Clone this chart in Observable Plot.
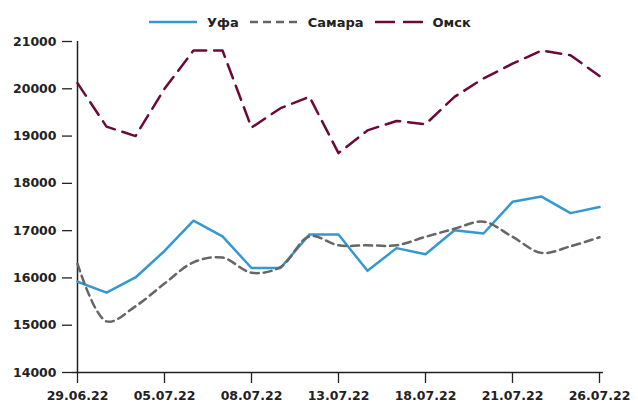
<!DOCTYPE html>
<html>
<head>
<meta charset="utf-8">
<script src="https://cdn.jsdelivr.net/npm/d3@7"></script>
<script src="https://cdn.jsdelivr.net/npm/@observablehq/plot@0.6"></script>
<style>
  html, body { margin: 0; padding: 0; background: #fff; }
  body { width: 638px; height: 405px; overflow: hidden; font-family: "DejaVu Sans", sans-serif; }
  #legend { height: 32px; display: flex; align-items: center; padding-left: 149px; box-sizing: border-box; padding-top: 12px;
            font: bold 13px "DejaVu Sans", sans-serif; color: #222; }
  #legend .item { display: flex; align-items: center; margin-right: 11px; }
  #legend svg { margin-right: 10px; }
</style>
</head>
<body>
<div id="legend"></div>
<div id="chart"></div>
<script>
const dates = ["29.06.22","30.06.22","01.07.22","05.07.22","06.07.22","07.07.22","08.07.22","11.07.22","12.07.22","13.07.22","14.07.22","15.07.22","18.07.22","19.07.22","20.07.22","21.07.22","22.07.22","25.07.22","26.07.22"];
const tickLabels = ["29.06.22","05.07.22","08.07.22","13.07.22","18.07.22","21.07.22","26.07.22"];
const yTicks = [14000,15000,16000,17000,18000,19000,20000,21000];
const seriesNames = ["Уфа","Самара","Омск"];
const ufa    = [15920,15690,16010,16570,17210,16880,16210,16210,16920,16920,16150,16630,16500,17010,16940,17610,17720,17370,17500];
const samara = [16300,15080,15400,15880,16330,16430,16110,16230,16880,16690,16690,16690,16870,17040,17190,16870,16530,16670,16860];
const omsk   = [20120,19200,19000,20000,20810,20810,19180,19590,19830,18640,19120,19320,19250,19830,20220,20530,20810,20710,20270];

const colors = ["#3399d0", "#666666", "#6b0a3a"];
const dashes = [null, "8,5", "15,8"];
const legendDashes = [null, "8,5", "20,8"];

const rows = [];
[ufa, samara, omsk].forEach((arr, s) => arr.forEach((v, i) => rows.push({date: dates[i], value: v, series: seriesNames[s]})));

// Legend
const legend = document.getElementById("legend");
seriesNames.forEach((name, s) => {
  const item = document.createElement("div");
  item.className = "item";
  const dash = legendDashes[s] ? ` stroke-dasharray="${legendDashes[s]}"` : "";
  item.innerHTML = `<svg width="48" height="6"><line x1="0" x2="48" y1="3" y2="3" stroke="${colors[s]}" stroke-width="2.5"${dash}/></svg><span>${name}</span>`;
  legend.appendChild(item);
});

const lineMarks = seriesNames.map((name, s) =>
  Plot.line(rows.filter(d => d.series === name), {
    x: "date", y: "value",
    stroke: colors[s], strokeWidth: 2.5,
    strokeDasharray: dashes[s] || undefined,
    curve: s === 1 ? "catmull-rom" : "linear"
  })
);

const chart = Plot.plot({
  width: 638,
  height: 373,
  marginLeft: 72,
  marginRight: 35,
  marginTop: 9,
  marginBottom: 33,
  style: { fontFamily: "DejaVu Sans, sans-serif", fontSize: "12.5px", fontWeight: "bold", color: "#222", background: "#fff" },
  x: { type: "point", domain: dates, padding: 0 },
  y: { domain: [14000, 21000] },
  marks: [
    Plot.axisY({ ticks: yTicks, tickSize: 10, tickPadding: 6, tickFormat: d => String(d), label: null, stroke: "#222", strokeWidth: 1.3 }),
    Plot.axisX({ ticks: tickLabels, tickSize: 11, tickPadding: 8, label: null, stroke: "#222", strokeWidth: 1.3 }),
    Plot.ruleX([dates[0]], { stroke: "#222", strokeWidth: 1.5 }),
    Plot.ruleY([14000], { stroke: "#222", strokeWidth: 1.5 }),
    ...lineMarks
  ]
});
document.getElementById("chart").appendChild(chart);
</script>
</body>
</html>
